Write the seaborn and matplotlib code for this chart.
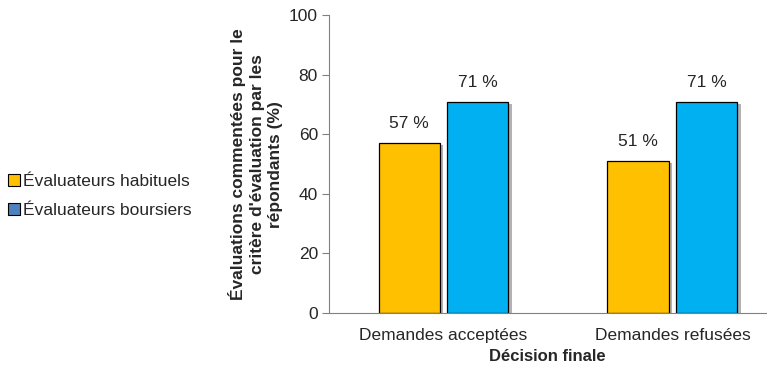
import pandas as pd
import seaborn as sns
import matplotlib.pyplot as plt
import matplotlib.patheffects as pe
from matplotlib.patches import Patch

# données
categories = ["Demandes acceptées", "Demandes refusées"]
groupes = ["Évaluateurs habituels", "Évaluateurs boursiers"]
habituels = [57, 51]
boursiers = [71, 71]

df = pd.DataFrame({
    "decision": categories * 2,
    "groupe": [groupes[0]] * 2 + [groupes[1]] * 2,
    "pct": habituels + boursiers,
})

sns.set_style("white")
plt.rcParams["font.family"] = ["Liberation Sans", "DejaVu Sans"]

fig = plt.figure(figsize=(7.67, 3.77), dpi=100)
ax = fig.add_axes([0.429, 0.170, 0.570, 0.789])

couleurs = ["#FFC000", "#00B0F0"]
sns.barplot(data=df, x="decision", y="pct", hue="groupe", hue_order=groupes,
            palette=couleurs, saturation=1, width=0.6, gap=0.11, edgecolor="black",
            linewidth=0.9, legend=False, ax=ax)

# ombre portée
for bar in ax.patches:
    bar.set_path_effects([pe.SimplePatchShadow(offset=(2.5, -1.5), shadow_rgbFace="#7f7f7f", alpha=0.6),
                          pe.Normal()])

# étiquettes
for bar in ax.patches:
    h = bar.get_height()
    ax.text(bar.get_x() + bar.get_width() / 2, h + 4, f"{h:.0f} %",
            ha="center", va="bottom", fontsize=12.5)

ax.set_xlim(-0.5, 1.41)
ax.set_ylim(0, 100)
ax.set_yticks([0, 20, 40, 60, 80, 100])
ax.tick_params(axis="y", labelsize=12.5, length=5, direction="out", left=True,
               color="#808080", pad=3)
ax.tick_params(axis="x", labelsize=12.5, length=0, pad=11)
for s in ["top", "right"]:
    ax.spines[s].set_visible(False)
ax.spines["left"].set_color("#808080")
ax.spines["bottom"].set_color("#808080")

ax.set_xlabel("Décision finale", fontsize=12, fontweight="bold", labelpad=4)
ax.set_ylabel("Évaluations commentées pour le\ncritère d'évaluation par les\nrépondants (%)",
              fontsize=12.5, fontweight="bold", labelpad=4, linespacing=1.3)

handles = [Patch(facecolor="#FFC000", edgecolor="black", linewidth=0.8),
           Patch(facecolor="#4F81BD", edgecolor="black", linewidth=0.8)]
fig.legend(handles, groupes, loc="center left", bbox_to_anchor=(0.004, 0.48),
           frameon=False, fontsize=12.5, handlelength=0.7, handleheight=0.7,
           handletextpad=0.15, labelspacing=0.8, borderaxespad=0.0, borderpad=0.3)

plt.savefig("out.png", dpi=100)
